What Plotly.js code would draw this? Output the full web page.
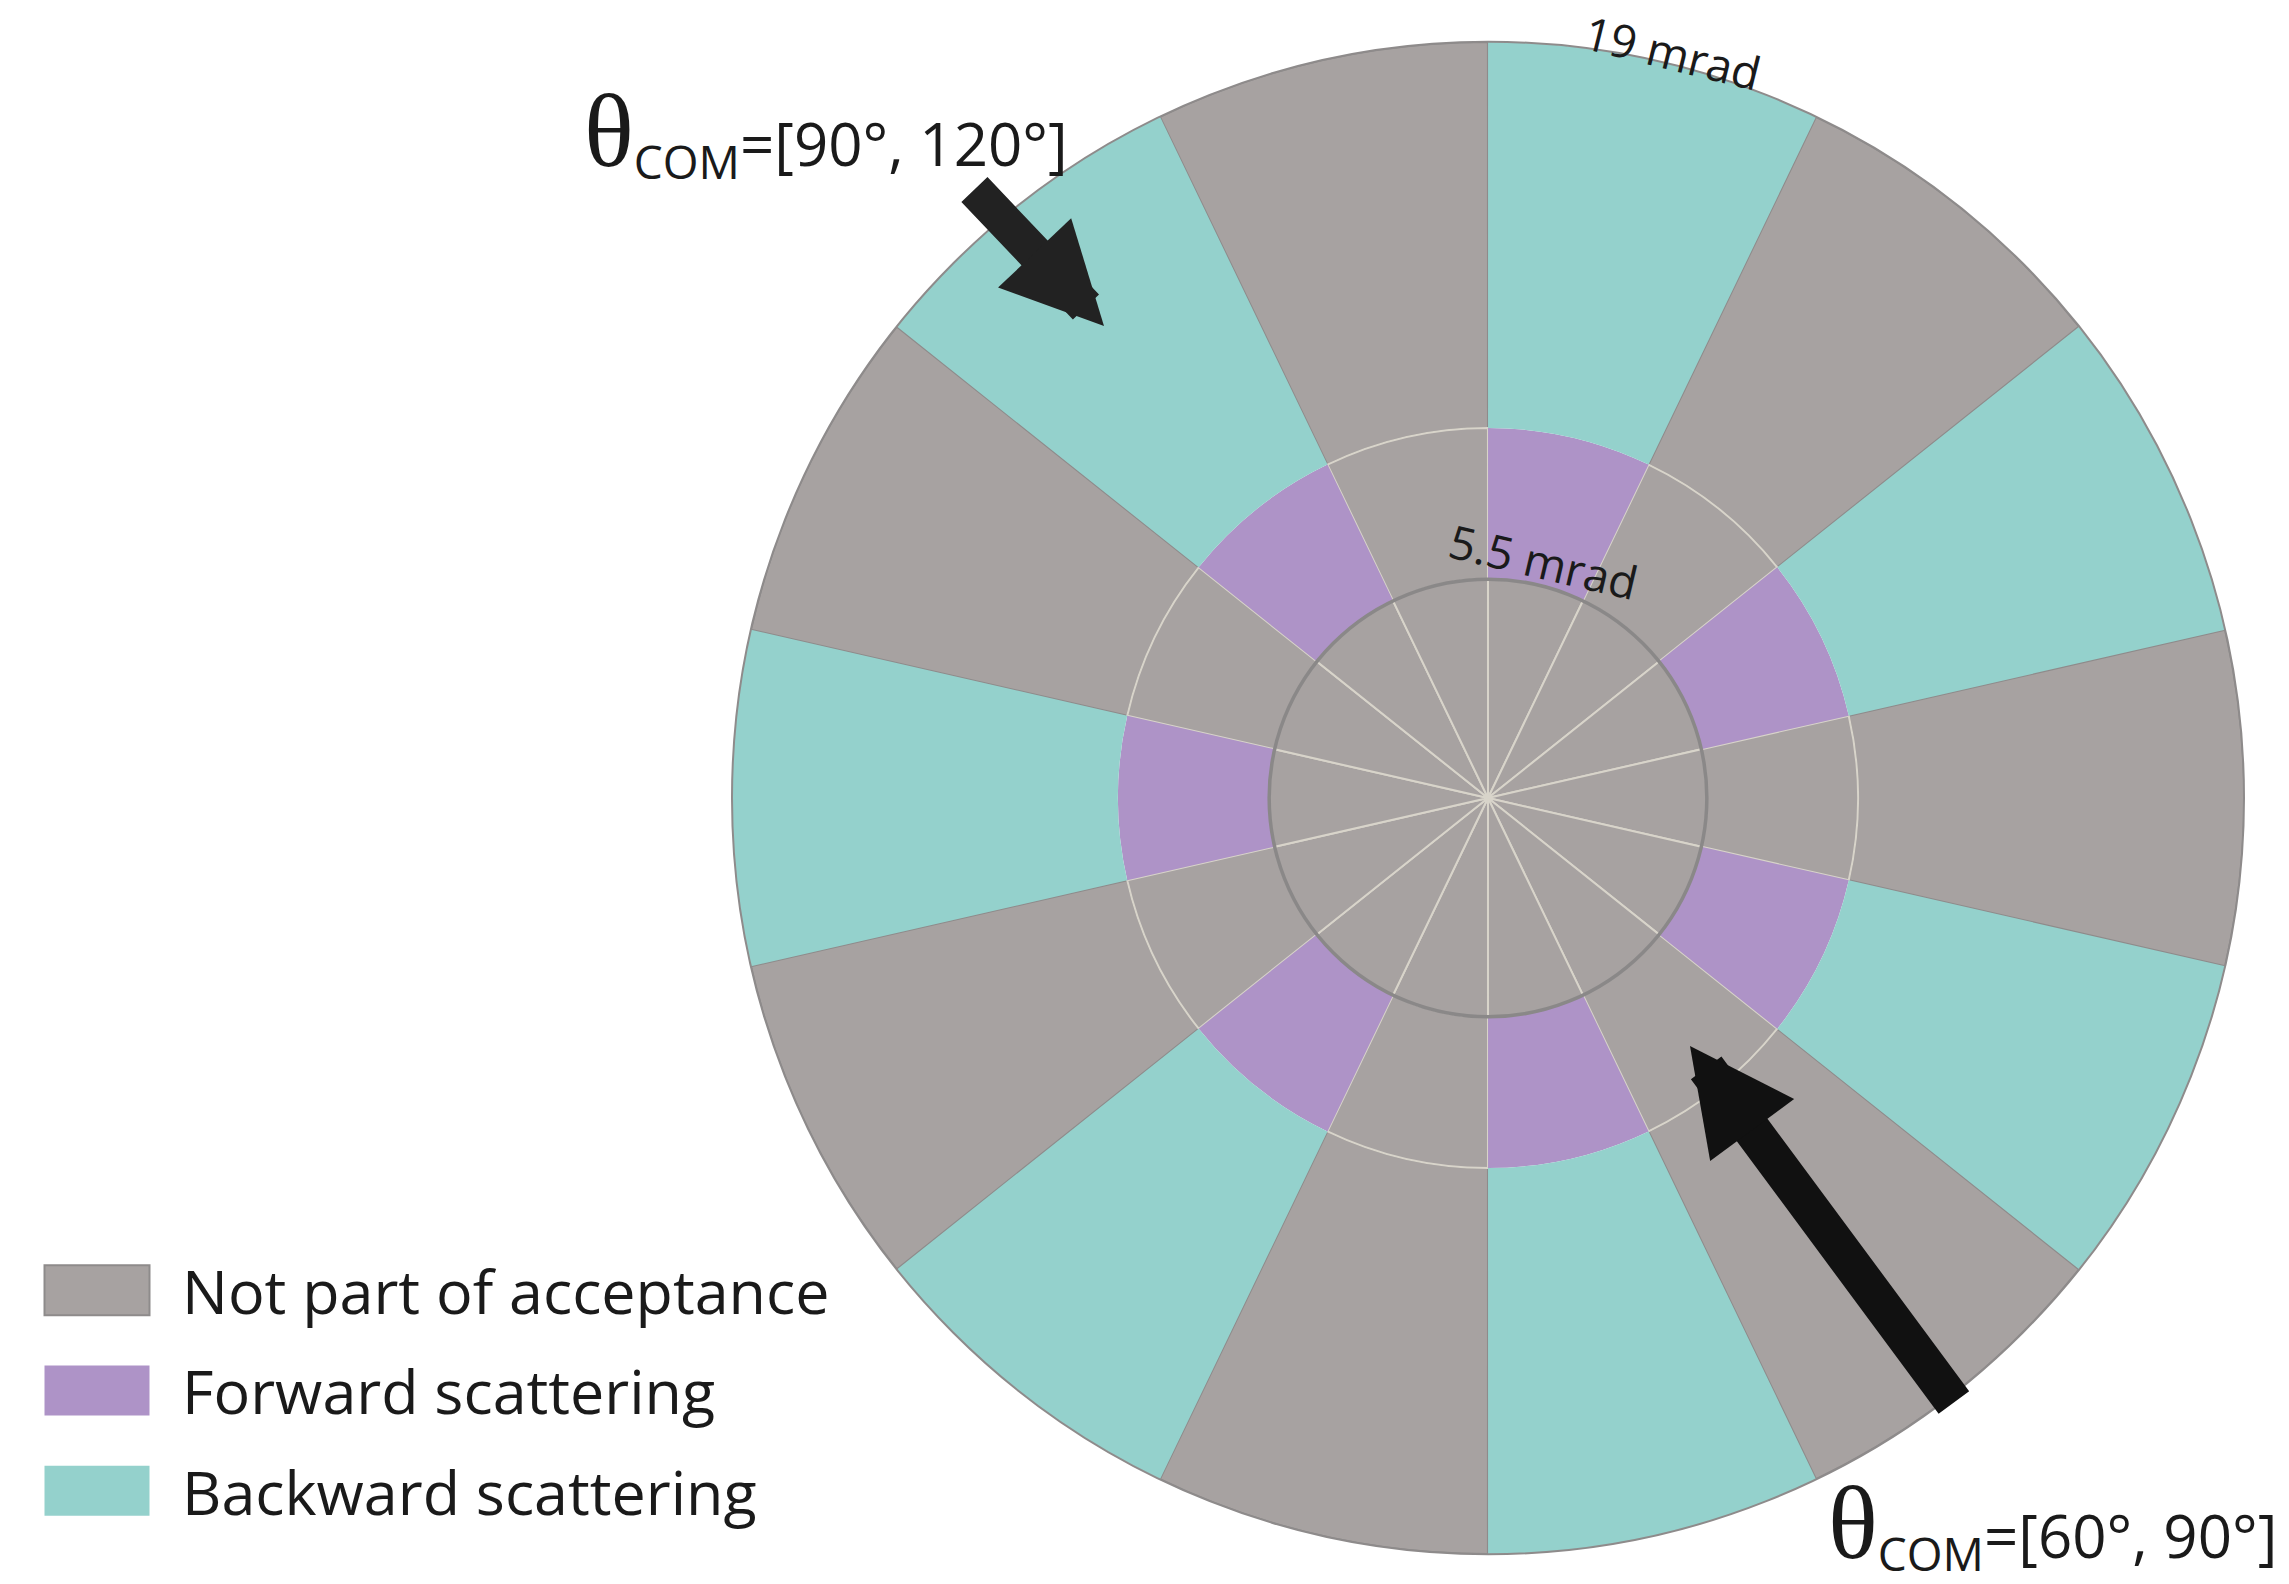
<!DOCTYPE html>
<html>
<head>
<meta charset="utf-8">
<script src="https://cdn.plot.ly/plotly-3.0.1.min.js"></script>
<style>
  html, body { margin: 0; padding: 0; background: #ffffff; }
  #chart { width: 2289px; height: 1584px; }
</style>
</head>
<body>
<div id="chart"></div>
<script>
// ---------------- data ----------------
// 14 azimuthal sectors, centre angle in degrees (clockwise from top)
const sectorTheta = [12.86, 38.57, 64.29, 90.0, 115.71, 141.43, 167.14,
                     192.86, 218.57, 244.29, 270.0, 295.71, 321.43, 347.14];
const sectorWidth = 25.71;
// 1 = sector inside the acceptance, 0 = outside
const sectorAccepted = [1, 0, 1, 0, 1, 0, 1, 0, 1, 0, 1, 0, 1, 0];
// ring edges in mrad
const ringEdges = [0, 5.5, 9.3, 19];
// legend categories
const categoryNames = ["Not part of acceptance", "Forward scattering", "Backward scattering"];
const categoryColors = ["#a7a2a1", "#ae93c7", "#94d1cc"];
// radial tick labels
const radialTickValues = [5.5, 19];
const radialTickLabels = ["5.5 mrad", "19 mrad"];
// annotations
const comRanges = ["=[90°, 120°]", "=[60°, 90°]"];

// ---------------- geometry of the page ----------------
const W = 2289, H = 1584;
const cx = 1488, cy = 798, R = 756;   // polar centre and radius in px
const domX = [(cx - R) / W, (cx + R) / W];
const domY = [(H - cy - R) / H, (H - cy + R) / H];
const rMax = ringEdges[ringEdges.length - 1];
function toPaper(rPx, angDeg) {
  const a = angDeg * Math.PI / 180;
  return { x: (cx + rPx * Math.sin(a)) / W, y: (H - (cy - rPx * Math.cos(a))) / H };
}

// ---------------- build bars ----------------
const lightLine = "#d8d4ca", darkLine = "#8e8b8b";
const grey = { theta: [], r: [], base: [], lc: [] };
const purple = { theta: [], r: [], base: [] };
const teal = { theta: [], r: [], base: [] };
// outer ring
sectorTheta.forEach((t, i) => {
  if (sectorAccepted[i]) {
    teal.theta.push(t); teal.r.push(ringEdges[3] - ringEdges[2]); teal.base.push(ringEdges[2]);
  } else {
    grey.theta.push(t); grey.r.push(ringEdges[3] - ringEdges[2]); grey.base.push(ringEdges[2]); grey.lc.push(darkLine);
  }
});
// middle ring
sectorTheta.forEach((t, i) => {
  if (sectorAccepted[i]) {
    purple.theta.push(t); purple.r.push(ringEdges[2] - ringEdges[1]); purple.base.push(ringEdges[1]);
  } else {
    grey.theta.push(t); grey.r.push(ringEdges[2] - ringEdges[1]); grey.base.push(ringEdges[1]); grey.lc.push(lightLine);
  }
});
// inner disc
sectorTheta.forEach((t) => {
  grey.theta.push(t); grey.r.push(ringEdges[1] - ringEdges[0]); grey.base.push(ringEdges[0]); grey.lc.push(lightLine);
});

const traces = [
  { type: "barpolar", name: categoryNames[0], legendgroup: "g0",
    theta: grey.theta, r: grey.r, base: grey.base, width: sectorWidth,
    marker: { color: categoryColors[0], line: { color: grey.lc, width: 2 } } },
  { type: "barpolar", name: categoryNames[1], legendgroup: "g1",
    theta: purple.theta, r: purple.r, base: purple.base, width: sectorWidth,
    marker: { color: categoryColors[1], line: { color: lightLine, width: 0 } } },
  { type: "barpolar", name: categoryNames[2], legendgroup: "g2",
    theta: teal.theta, r: teal.r, base: teal.base, width: sectorWidth,
    marker: { color: categoryColors[2], line: { color: darkLine, width: 0 } } }
];

// ---------------- annotations ----------------
const textFont = "'Open Sans', sans-serif";
const annotations = [];
const tickLabelAngle = [13.2, 13.9];
const tickLabelOffset = [25, 13];
radialTickValues.forEach((v, i) => {
  const p = toPaper(v / rMax * R + tickLabelOffset[i], tickLabelAngle[i]);
  annotations.push({ xref: "paper", yref: "paper", x: p.x, y: p.y, xanchor: "center", yanchor: "middle",
    text: radialTickLabels[i], showarrow: false, textangle: tickLabelAngle[i],
    font: { family: textFont, size: 46, color: "#1a1a1a" } });
});
const comText = (rng) =>
  "<span style=\"font-family:'Liberation Serif', serif; font-size:104px\">θ</span>" +
  "<sub><span style=\"font-size:46px\">COM</span></sub>" + rng;
annotations.push({ xref: "paper", yref: "paper", x: 582 / W, y: 1 - 133 / H, xanchor: "left", yanchor: "middle",
  text: comText(comRanges[0]), showarrow: false, font: { family: textFont, size: 60, color: "#1a1a1a" } });
annotations.push({ xref: "paper", yref: "paper", x: 1826 / W, y: 1 - 1524 / H, xanchor: "left", yanchor: "middle",
  text: comText(comRanges[1]), showarrow: false, font: { family: textFont, size: 60, color: "#1a1a1a" } });
// arrows
annotations.push({ xref: "paper", yref: "paper", x: 1104 / W, y: 1 - 326 / H, ax: -131, ay: -138,
  text: "", showarrow: true, arrowhead: 2, arrowsize: 0.56, arrowwidth: 36, arrowcolor: "#222222" });
annotations.push({ xref: "paper", yref: "paper", x: 1690 / W, y: 1 - 1046 / H, ax: 265, ay: 358,
  text: "", showarrow: true, arrowhead: 2, arrowsize: 0.55, arrowwidth: 38, arrowcolor: "#111111" });

// inner 5.5 mrad circle
const rIn = ringEdges[1] / rMax * R;
const shapes = [{ type: "circle", xref: "paper", yref: "paper", layer: "above",
  x0: (cx - rIn) / W, x1: (cx + rIn) / W, y0: (H - cy - rIn) / H, y1: (H - cy + rIn) / H,
  line: { color: "#8a8888", width: 3.5 } }];

const layout = {
  width: W, height: H,
  margin: { l: 0, r: 0, t: 0, b: 0 },
  paper_bgcolor: "#ffffff",
  showlegend: true,
  legend: { x: 11 / W, xanchor: "left", y: 1 - 1244 / H, yanchor: "top",
    itemwidth: 161, tracegroupgap: 18, bgcolor: "rgba(0,0,0,0)",
    font: { family: textFont, size: 61, color: "#1a1a1a" } },
  polar: {
    domain: { x: domX, y: domY },
    bgcolor: "rgba(0,0,0,0)",
    bargap: 0,
    angularaxis: { rotation: 90, direction: "clockwise", showgrid: false, showticklabels: false,
      ticks: "", showline: true, linecolor: "#8e8b8b", linewidth: 2 },
    radialaxis: { range: [0, rMax], showgrid: false, showticklabels: false, ticks: "", showline: false }
  },
  annotations: annotations,
  shapes: shapes
};

Plotly.newPlot("chart", traces, layout, { staticPlot: true }).then(function (gd) {
  gd.querySelectorAll(".legend .legendpoints path").forEach(function (p) {
    p.setAttribute("d", "M-52,-25H53V25H-52Z");
  });
});
</script>
</body>
</html>
